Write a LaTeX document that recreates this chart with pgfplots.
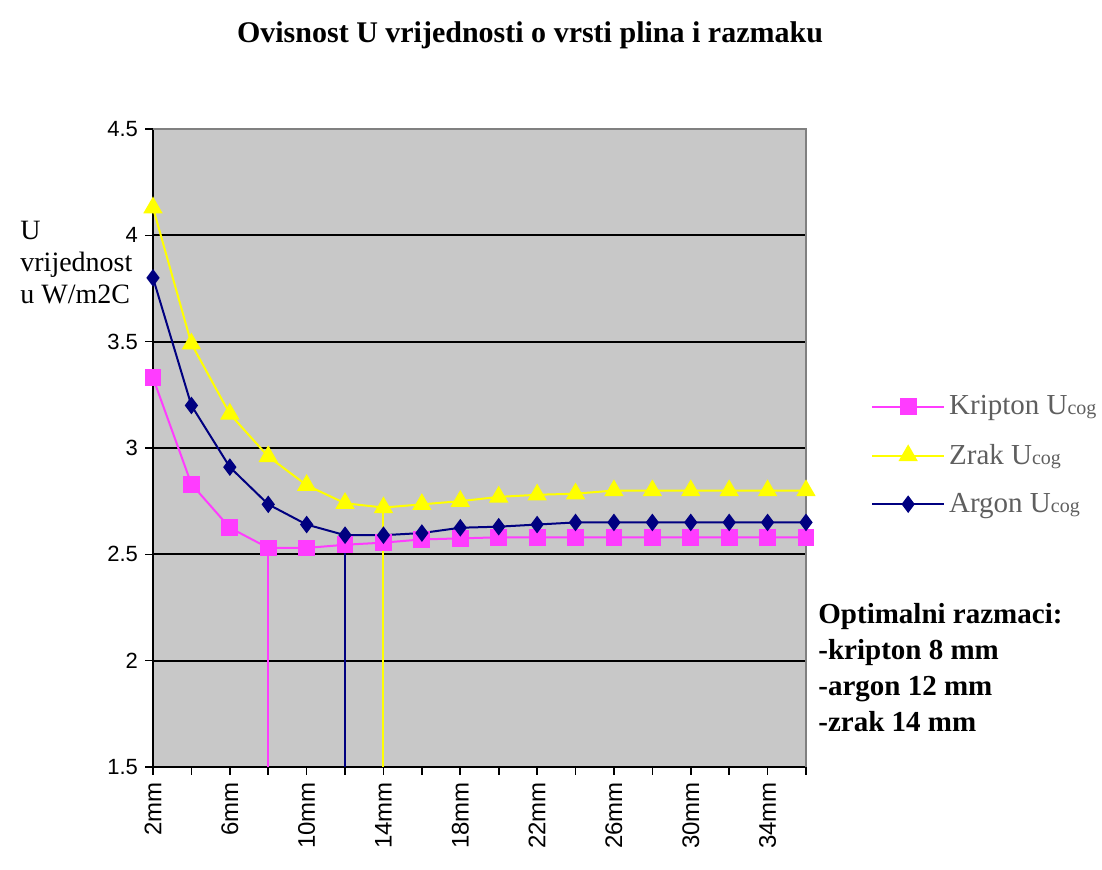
\documentclass[border=0pt]{standalone}
\usepackage{fontspec}
\setmainfont{Liberation Serif}
\newfontfamily\arialfont{Liberation Sans}
\usepackage{pgfplots}
\pgfplotsset{compat=1.18}
\definecolor{kr}{RGB}{255,60,255}
\definecolor{zr}{RGB}{255,255,0}
\definecolor{ar}{RGB}{0,0,128}
\definecolor{bg}{RGB}{200,200,200}
\definecolor{legtext}{RGB}{95,95,95}
\begin{document}
\begin{tikzpicture}
\useasboundingbox (-76.5pt,-51.5pt) rectangle (474.5pt,383.5pt);
\begin{axis}[
 at={(0,0)}, anchor=south west, scale only axis,
 width=326.5pt, height=319pt,
 xmin=2, xmax=36, ymin=1.5, ymax=4.5,
 xtick={2,4,...,36},
 xticklabels={2mm,,6mm,,10mm,,14mm,,18mm,,22mm,,26mm,,30mm,,34mm,},
 x tick label style={rotate=90, anchor=east, font=\arialfont\fontsize{12}{12}\selectfont},
 ytick={1.5,2,...,4.5},
 yticklabels={1.5,2,2.5,3,3.5,4,4.5},
 y tick label style={font=\arialfont\fontsize{11}{12}\selectfont},
 axis x line*=bottom, axis y line*=left,
 axis line style={black, line width=0.8pt, -},
 tick align=outside, major tick length=4pt,
 tick style={black, line width=0.8pt},
 ymajorgrids, grid style={black, line width=0.9pt},
 axis background/.style={fill=bg},
 clip=false,
 legend style={at={(1.09,0.595)}, anchor=north west, draw=none, fill=none,
   font=\fontsize{14.5}{16}\selectfont, text=legtext, row sep=9pt},
 legend cell align=left,
 legend image code/.code={\draw[mark repeat=2,mark phase=2] plot coordinates {(0pt,0pt) (18pt,0pt) (36pt,0pt)};},
]
\addplot[kr, line width=1pt, forget plot] coordinates {(8,1.5) (8,2.53)};
\addplot[ar, line width=1pt, forget plot] coordinates {(12,1.5) (12,2.59)};
\addplot[zr, line width=1pt, forget plot] coordinates {(14,1.5) (14,2.72)};
\addplot[kr, line width=1pt, mark=square*, mark size=3.7pt, mark options={fill=kr, draw=kr}] coordinates {
(2,3.33) (4,2.83) (6,2.625) (8,2.53) (10,2.53) (12,2.545) (14,2.555) (16,2.57) (18,2.575)
(20,2.58) (22,2.58) (24,2.58) (26,2.58) (28,2.58) (30,2.58) (32,2.58) (34,2.58) (36,2.58)};
\addlegendentry{Kripton U{\fontsize{10}{10}\selectfont cog}}
\addplot[zr, line width=1pt, mark=triangle*, mark size=4.6pt, mark options={fill=zr, draw=zr}] coordinates {
(2,4.13) (4,3.49) (6,3.16) (8,2.96) (10,2.825) (12,2.74) (14,2.72) (16,2.735) (18,2.75)
(20,2.77) (22,2.78) (24,2.785) (26,2.80) (28,2.80) (30,2.80) (32,2.80) (34,2.80) (36,2.80)};
\addlegendentry{Zrak U{\fontsize{10}{10}\selectfont cog}}
\addplot[ar, line width=1pt, mark=diamond*, mark size=3.6pt, mark options={fill=ar, draw=ar}] coordinates {
(2,3.80) (4,3.20) (6,2.91) (8,2.735) (10,2.64) (12,2.59) (14,2.59) (16,2.60) (18,2.625)
(20,2.63) (22,2.64) (24,2.65) (26,2.65) (28,2.65) (30,2.65) (32,2.65) (34,2.65) (36,2.65)};
\addlegendentry{Argon U{\fontsize{10}{10}\selectfont cog}}
\draw[gray, line width=0.8pt] (rel axis cs:0,1) -- (rel axis cs:1,1) -- (rel axis cs:1,0);
\end{axis}
\node[font=\bfseries\fontsize{15}{18}\selectfont] at (188.5pt,366pt) {Ovisnost U vrijednosti o vrsti plina i razmaku};
\node[anchor=north west, inner sep=0pt, align=left, font=\fontsize{14}{16}\selectfont] at (-66.5pt,273pt) {U\\vrijednost\\u W/m2C};
\node[anchor=north west, inner sep=0pt, align=left, font=\bfseries\fontsize{14.5}{18}\selectfont] at (332.5pt,82pt) {Optimalni razmaci:\\-kripton 8 mm\\-argon 12 mm\\-zrak 14 mm};
\end{tikzpicture}
\end{document}
